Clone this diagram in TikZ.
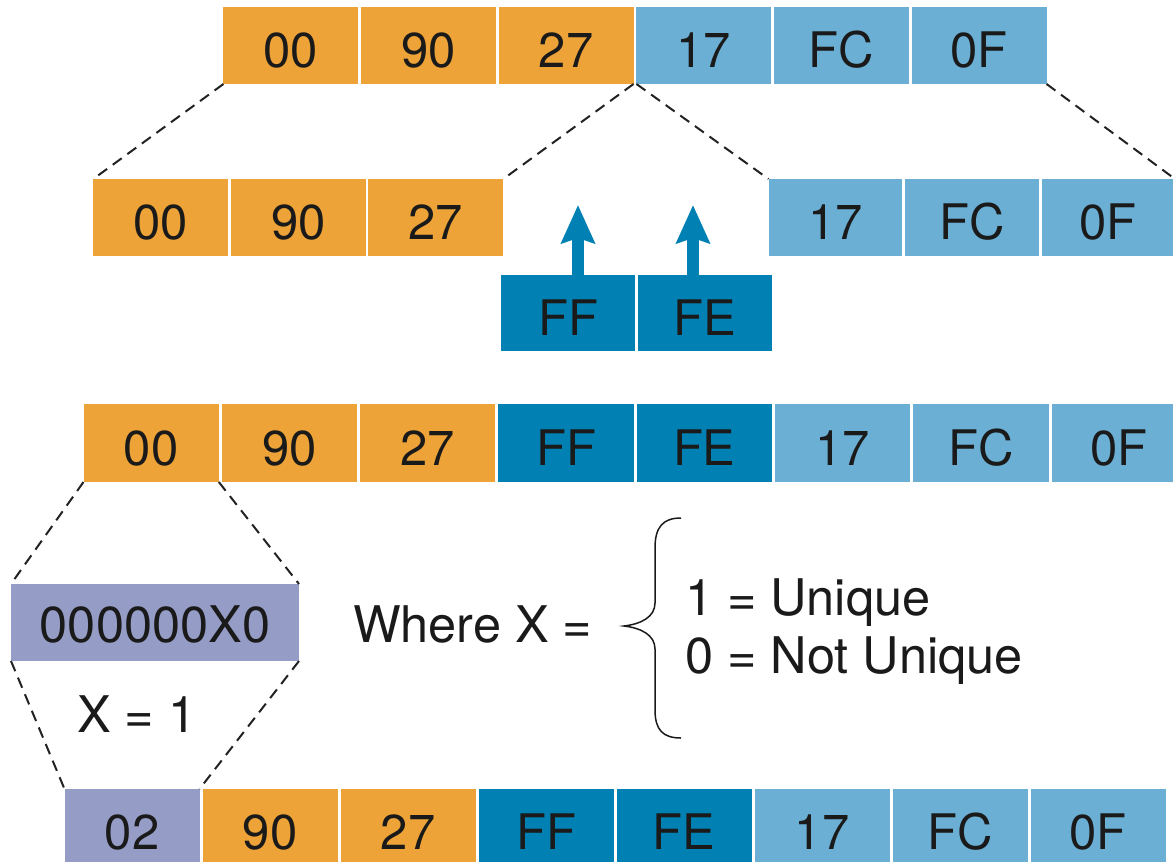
\documentclass[tikz,border=0pt]{standalone}
\usepackage{fontspec}
\setmainfont{TeX Gyre Heros}
\usetikzlibrary{arrows.meta,calc}
\definecolor{orng}{HTML}{EDA337}
\definecolor{lblue}{HTML}{6BAFD4}
\definecolor{dblue}{HTML}{0181B3}
\definecolor{purp}{HTML}{959DC7}
\definecolor{txt}{HTML}{1A1A1A}
\definecolor{dash}{HTML}{222222}
\tikzset{
  cell/.style={rectangle, inner sep=0pt, outer sep=0pt, minimum height=77pt,
    text height=52pt, text depth=8pt, text=txt,
    font=\fontsize{49}{58}\selectfont},
  lbl/.style={inner sep=0pt, outer sep=0pt, text=txt, font=\fontsize{50.5}{58}\selectfont},
  dline/.style={draw=dash, line width=2pt, dash pattern=on 11pt off 7pt},
  uparrow/.style={draw=dblue, line width=12pt, -{Stealth[length=38pt,width=33pt,inset=5pt]}},
}
\begin{document}
\begin{tikzpicture}[x=1pt,y=-1pt]
\useasboundingbox (0,0) rectangle (1173,862);
\clip (0,0) rectangle (1173,862);
% Row 1
\node[cell, fill=orng,  minimum width=134.7pt] (a1) at (290.8,45.5) {00};
\node[cell, fill=orng,  minimum width=134.7pt] (a2) at (428.5,45.5) {90};
\node[cell, fill=orng,  minimum width=134.7pt] (a3) at (566.2,45.5) {27};
\node[cell, fill=lblue, minimum width=134.7pt] (a4) at (703.8,45.5) {17};
\node[cell, fill=lblue, minimum width=134.7pt] (a5) at (841.5,45.5) {FC};
\node[cell, fill=lblue, minimum width=134.7pt] (a6) at (979.2,45.5) {0F};
% Row 2
\node[cell, fill=orng,  minimum width=135pt] (b1) at (160.75,217.5) {00};
\node[cell, fill=orng,  minimum width=135pt] (b2) at (298.25,217.5) {90};
\node[cell, fill=orng,  minimum width=135pt] (b3) at (435.75,217.5) {27};
\node[cell, fill=lblue, minimum width=133.5pt] (b4) at (835.25,217.5) {17};
\node[cell, fill=lblue, minimum width=133.5pt] (b5) at (971.75,217.5) {FC};
\node[cell, fill=lblue, minimum width=133.5pt] (b6) at (1108.25,217.5) {0F};
\node[cell, fill=dblue, minimum width=134pt, minimum height=76pt] (ff) at (568,313) {FF};
\node[cell, fill=dblue, minimum width=134pt, minimum height=76pt] (fe) at (705,313) {FE};
\draw[uparrow] ($(ff.north)+(10,0)$) -- ($(ff.north)+(10,-70)$);
\draw[uparrow] ($(fe.north)+(-12,0)$) -- ($(fe.north)+(-12,-70)$);
% Row 3
\node[cell, fill=orng,  minimum width=135.3pt, minimum height=78pt] (c1) at (151.15,443) {00};
\node[cell, fill=orng,  minimum width=135.3pt, minimum height=78pt] (c2) at (289.45,443) {90};
\node[cell, fill=orng,  minimum width=135.3pt, minimum height=78pt] (c3) at (427.75,443) {27};
\node[cell, fill=dblue, minimum width=135.3pt, minimum height=78pt] (c4) at (566.05,443) {FF};
\node[cell, fill=dblue, minimum width=135.3pt, minimum height=78pt] (c5) at (704.35,443) {FE};
\node[cell, fill=lblue, minimum width=135.3pt, minimum height=78pt] (c6) at (842.65,443) {17};
\node[cell, fill=lblue, minimum width=135.3pt, minimum height=78pt] (c7) at (980.95,443) {FC};
\node[cell, fill=lblue, minimum width=135.3pt, minimum height=78pt] (c8) at (1119.25,443) {0F};
% Purple flag byte
\node[cell, fill=purp, minimum width=288pt, text height=50pt, text depth=11pt,
      font=\fontsize{50.5}{58}\selectfont] (p) at (155,622.5) {000000X0};
% Row 4
\node[cell, fill=purp,  minimum width=135pt] (e1) at (132,827.5) {02};
\node[cell, fill=orng,  minimum width=135pt] (e2) at (270,827.5) {90};
\node[cell, fill=orng,  minimum width=135pt] (e3) at (408,827.5) {27};
\node[cell, fill=dblue, minimum width=135pt] (e4) at (546,827.5) {FF};
\node[cell, fill=dblue, minimum width=135pt] (e5) at (684,827.5) {FE};
\node[cell, fill=lblue, minimum width=135pt] (e6) at (822,827.5) {17};
\node[cell, fill=lblue, minimum width=135pt] (e7) at (960,827.5) {FC};
\node[cell, fill=lblue, minimum width=135pt] (e8) at (1098,827.5) {0F};
% Dashed connectors
\draw[dline] (a1.south west) -- (b1.north west);
\draw[dline] (a3.south east) -- (b3.north east);
\draw[dline] (a4.south west) -- (b4.north west);
\draw[dline] (a6.south east) -- (b6.north east);
\draw[dline] (c1.south west) -- (p.north west);
\draw[dline] (c1.south east) -- (p.north east);
\draw[dline] (p.south west) -- (e1.north west);
\draw[dline] (p.south east) -- (e1.north east);
% Texts
\node[lbl, anchor=base west] (x1) at (77,732) {X = 1};
\node[lbl, anchor=base west] (wx) at (353,642) {Where X =};
\node[lbl, anchor=base west] (u1) at (685,615) {1 = Unique};
\node[lbl, anchor=base west] (u2) at (685,673) {0 = Not Unique};
% Brace
\draw[draw=txt, line width=1.5pt]
  (681,518) .. controls (663,518) and (655,527) .. (655,548)
  -- (655,603) .. controls (655,617) and (641,624) .. (624,626)
  .. controls (641,628) and (655,635) .. (655,649)
  -- (655,710) .. controls (655,730) and (663,738) .. (681,738);
\end{tikzpicture}
\end{document}
